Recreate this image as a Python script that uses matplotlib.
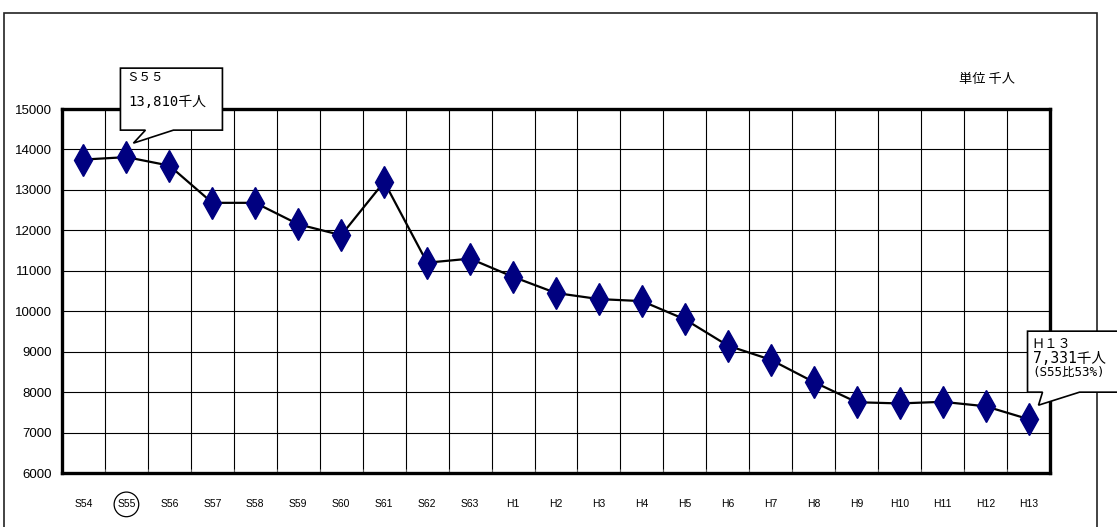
import matplotlib
matplotlib.use("Agg")
import matplotlib.pyplot as plt
import matplotlib.transforms as mtransforms
from matplotlib.patches import Polygon, Rectangle

years = ["S54", "S55", "S56", "S57", "S58", "S59", "S60", "S61", "S62", "S63",
         "H1", "H2", "H3", "H4", "H5", "H6", "H7", "H8", "H9", "H10", "H11",
         "H12", "H13"]
riders = [13750, 13810, 13600, 12680, 12680, 12150, 11880, 13200, 11200, 11300,
          10850, 10450, 10300, 10250, 9800, 9150, 8800, 8250, 7750, 7720, 7760,
          7650, 7331]
y_ticks = [6000, 7000, 8000, 9000, 10000, 11000, 12000, 13000, 14000, 15000]

sans = ["Liberation Sans", "DejaVu Sans"]
mono = ["DejaVu Sans Mono", "Noto Sans CJK JP"]
cjk = ["Noto Sans CJK JP", "DejaVu Sans"]

W, H = 1117, 527
fig = plt.figure(figsize=(W / 100, H / 100), dpi=100)
ax = fig.add_axes([62 / W, (H - 473) / H, 988 / W, 364 / H])

# outer frame
fig.patches.append(Rectangle((4 / W, -0.1), 1093 / W, 0.1 + (H - 13) / H,
                             transform=fig.transFigure, fill=False,
                             ec="#222222", lw=1.2, zorder=-1))

x = list(range(len(years)))
ax.plot(x, riders, color="black", lw=1.6, marker="d", markersize=16,
        markerfacecolor="#000080", markeredgecolor="#000080", zorder=3)

ax.set_xlim(-0.5, len(years) - 0.5)
ax.set_ylim(6000, 15000)
ax.set_yticks(y_ticks)
ax.set_yticklabels([str(v) for v in y_ticks], family=sans, fontsize=9.5)
ax.set_xticks(x)
ax.set_xticklabels(years, family=sans, fontsize=7.5)
ax.set_xticks([i + 0.5 for i in x[:-1]], minor=True)
ax.tick_params(axis="x", which="major", length=0, pad=19)
ax.tick_params(axis="x", which="minor", direction="in", length=3, color="#777777")
ax.tick_params(axis="y", length=0, pad=7)
ax.grid(True, which="minor", axis="x", color="black", lw=0.8)
ax.grid(True, which="major", axis="y", color="black", lw=0.8)
for s in ax.spines.values():
    s.set_linewidth(2.4)
    s.set_color("black")

ax.get_xticklabels()[1].set_bbox(dict(boxstyle="circle,pad=0.3", fc="none",
                                      ec="black", lw=0.9))

ax.text(0.936, 1.08, "単位 千人", transform=ax.transAxes, ha="center",
        va="center", fontsize=9.5, family=cjk)


def callout(i, verts, lines):
    # callout box drawn in pixel offsets from the data point
    anchor = mtransforms.ScaledTranslation(x[i], riders[i], ax.transData)
    poly = Polygon(verts, closed=True, fc="white", ec="black", lw=1.2,
                   transform=mtransforms.Affine2D() + anchor, zorder=5,
                   clip_on=False)
    ax.add_patch(poly)
    for txt, (dx, dy), size, fam in lines:
        ax.annotate(txt, xy=(x[i], riders[i]), xytext=(dx, dy),
                    textcoords="offset pixels", ha="left", va="center",
                    fontsize=size, family=fam, zorder=6,
                    annotation_clip=False)


callout(1, [(-6, 27), (19, 27), (7, 14), (47, 27), (96, 27), (96, 89), (-6, 89)],
        [("Ｓ５５", (0, 80), 9, cjk),
         ("13,810千人", (2, 55), 10, mono)])
callout(22, [(-1, 27), (14, 27), (10, 14), (51, 27), (110, 27), (110, 88), (-1, 88)],
        [("Ｈ１３", (3, 75), 9.5, cjk),
         ("7,331千人", (4, 61), 10.5, mono),
         ("(S55比53%)", (4, 47), 9, mono)])

fig.savefig("out.png", dpi=100)
